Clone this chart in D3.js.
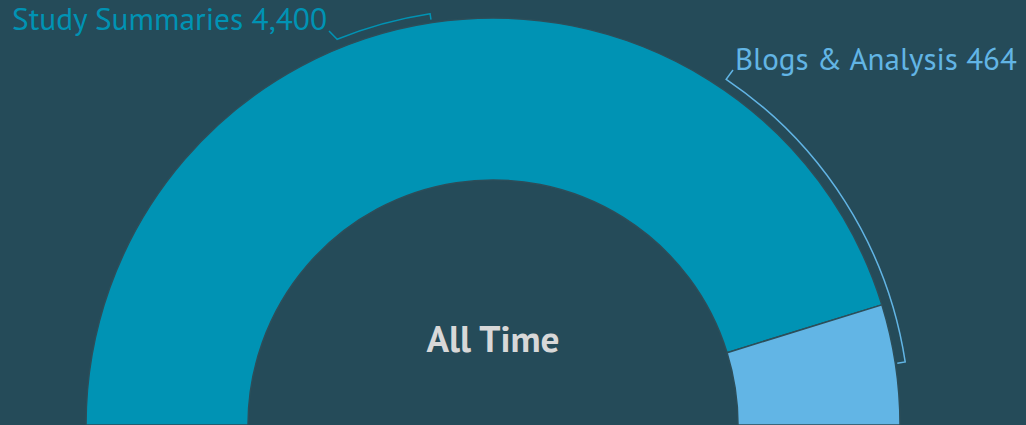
<!DOCTYPE html>
<html>
<head>
<meta charset="utf-8">
<script src="https://cdn.jsdelivr.net/npm/d3@7"></script>
<style>
  html, body { margin: 0; padding: 0; background: #254b59; }
  svg { display: block; }
</style>
</head>
<body>
<svg id="chart" width="1026" height="425"></svg>
<script>
// ---- data ----
const categories = ["Study Summaries", "Blogs & Analysis"];
const values = [4400, 464];
const colors = ["#0093b4", "#62b5e5"];
const centerLabel = "All Time";

// ---- layout ----
const W = 1026, H = 425;
const cx = 493, cy = 425;
const outerR = 407, innerR = 245;
const bg = "#254b59";
const fontFam = "'PT Sans', Lato, 'Open Sans', sans-serif";

const svg = d3.select("#chart");
svg.append("rect").attr("width", W).attr("height", H).attr("fill", bg);

const g = svg.append("g").attr("transform", `translate(${cx},${cy})`);

const pie = d3.pie().sort(null).value(d => d.value)
  .startAngle(-Math.PI / 2).endAngle(Math.PI / 2);
const data = categories.map((c, i) => ({ name: c, value: values[i], color: colors[i] }));
const arcs = pie(data);
const arc = d3.arc().innerRadius(innerR).outerRadius(outerR);

g.selectAll("path.slice").data(arcs).join("path")
  .attr("class", "slice")
  .attr("d", arc)
  .attr("fill", d => d.data.color)
  .attr("stroke", "#2c4e5a")
  .attr("stroke-width", 1.5);

// center label
const ct = g.append("text")
  .attr("x", 0).attr("y", -73)
  .attr("text-anchor", "middle")
  .attr("font-family", fontFam)
  .attr("font-weight", "bold")
  .attr("font-size", 36)
  .attr("fill", "#d8d8d8")
  .text(centerLabel);
const cl = ct.node().getComputedTextLength();
if (cl > 0) ct.attr("font-size", 36 * 133 / cl);

// callout labels (bracket arcs at outer radius + offset)
const deg = Math.PI / 180;
const callouts = [
  { i: 0, a0: -22, a1: -8.7, r: 416, tick: 6, textX: 327, textY: 30, anchor: "end", width: 315, joinX: 329, joinY: 31 },
  { i: 1, a0: 34, a1: 81.3, r: 417, tick: 8, textX: 735, textY: 70, anchor: "start", width: 282, joinX: 733, joinY: 70 }
];
const fmt = d3.format(",");
const pt = (a, r) => [cx + r * Math.sin(a * deg), cy - r * Math.cos(a * deg)];

callouts.forEach(c => {
  const d = data[c.i];
  const t = svg.append("text")
    .attr("x", c.textX).attr("y", c.textY)
    .attr("text-anchor", c.anchor)
    .attr("font-family", fontFam)
    .attr("font-size", 28)
    .attr("fill", d.color)
    .text(`${d.name} ${fmt(d.value)}`);
  const len = t.node().getComputedTextLength();
  if (len > 0) t.attr("font-size", 28 * c.width / len);

  const p0 = pt(c.a0, c.r);
  const p1 = pt(c.a1, c.r);
  const p2 = pt(c.a1, c.r - c.tick);
  const path = `M${c.joinX},${c.joinY}L${p0[0]},${p0[1]}` +
    `A${c.r},${c.r} 0 0 1 ${p1[0]},${p1[1]}L${p2[0]},${p2[1]}`;
  svg.append("path").attr("d", path)
    .attr("fill", "none").attr("stroke", d.color).attr("stroke-width", 1.5);
});
</script>
</body>
</html>
